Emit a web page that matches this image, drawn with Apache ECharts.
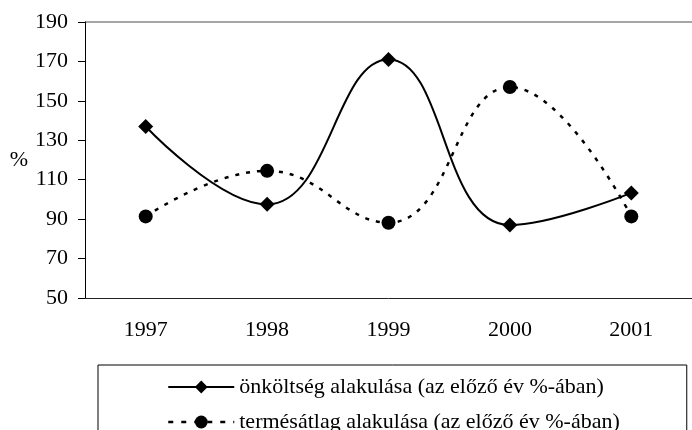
<!DOCTYPE html>
<html>
<head>
<meta charset="utf-8">
<script src="https://cdn.jsdelivr.net/npm/echarts@6/dist/echarts.min.js"></script>
<style>
  html, body { margin: 0; padding: 0; background: #fff; }
  #chart { width: 692px; height: 430px; }
</style>
</head>
<body>
<div id="chart"></div>
<script>
const years = ['1997', '1998', '1999', '2000', '2001'];
const costName = 'önköltség alakulása (az előző év %-ában)';
const costValues = [137, 97.5, 171, 87, 103.3];
const yieldName = 'termésátlag alakulása (az előző év %-ában)';
const yieldValues = [91.4, 114.5, 88.2, 157, 91.4];

const FONT = '"Liberation Serif", "Times New Roman", serif';

// only the top split line (190) is drawn, in gray
const splitColors = ['rgba(0,0,0,0)', 'rgba(0,0,0,0)', 'rgba(0,0,0,0)', 'rgba(0,0,0,0)',
  'rgba(0,0,0,0)', 'rgba(0,0,0,0)', 'rgba(0,0,0,0)', '#888'];

const chart = echarts.init(document.getElementById('chart'));
chart.setOption({
  animation: false,
  textStyle: { fontFamily: FONT, color: '#000' },
  grid: { left: 85, top: 22, width: 620, height: 276, containLabel: false },
  legend: {
    orient: 'vertical',
    left: 98,
    top: 365,
    height: 120,
    padding: [11, 67, 30, 69],
    borderColor: '#000',
    borderWidth: 1,
    borderRadius: 0,
    itemWidth: 66,
    itemHeight: 16,
    itemGap: 13,
    textStyle: { fontFamily: FONT, fontSize: 22, color: '#000' },
    data: [
      { name: costName },
      { name: yieldName, lineStyle: { type: [5, 8], width: 2.5 } },
    ],
  },
  xAxis: {
    type: 'category',
    data: years,
    boundaryGap: true,
    axisLine: { lineStyle: { color: '#222', width: 1 } },
    axisTick: { length: 7, lineStyle: { color: '#666' } },
    axisLabel: { fontFamily: FONT, fontSize: 22, color: '#000', margin: 21 },
  },
  yAxis: {
    type: 'value',
    min: 50,
    max: 190,
    interval: 20,
    name: '%',
    nameLocation: 'middle',
    nameRotate: 0,
    nameGap: 57,
    nameTextStyle: { fontFamily: FONT, fontSize: 22, color: '#000' },
    axisLine: { show: true, lineStyle: { color: '#000', width: 1 } },
    axisTick: { show: true, length: 7, lineStyle: { color: '#000' } },
    axisLabel: { fontFamily: FONT, fontSize: 22, color: '#000', margin: 17 },
    splitLine: { show: true, lineStyle: { color: splitColors, width: 1.5 } },
  },
  series: [
    {
      name: costName,
      type: 'line',
      data: costValues,
      smooth: 0.45,
      symbol: 'diamond',
      symbolSize: 15,
      itemStyle: { color: '#000' },
      lineStyle: { color: '#000', width: 2 },
    },
    {
      name: yieldName,
      type: 'line',
      data: yieldValues,
      smooth: 0.45,
      symbol: 'circle',
      symbolSize: 14,
      itemStyle: { color: '#000' },
      lineStyle: { color: '#000', width: 2.5, type: [4, 7] },
    },
  ],
});
</script>
</body>
</html>
